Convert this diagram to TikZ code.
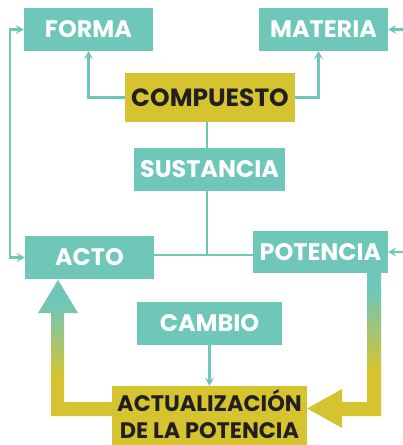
\documentclass[tikz,border=0pt]{standalone}
\usepackage{fontspec}
\setmainfont{Poppins}
\usetikzlibrary{arrows.meta}
\definecolor{tealc}{HTML}{6EC7B9}
\definecolor{yelc}{HTML}{D5C42F}
\definecolor{inkc}{HTML}{231F20}
\pgfdeclareverticalshading{lshade}{100bp}{color(0bp)=(yelc); color(39.5bp)=(yelc); color(66.5bp)=(tealc); color(100bp)=(tealc)}
\pgfdeclareverticalshading{rshade}{100bp}{color(0bp)=(yelc); color(43.5bp)=(yelc); color(69.5bp)=(tealc); color(100bp)=(tealc)}
\begin{document}
\begin{tikzpicture}[x=1bp,y=-1bp,
  tbox/.style={fill=tealc,text=white,inner sep=0pt,font=\fontsize{24}{26}\selectfont\bfseries},
  ybox/.style={fill=yelc,text=inkc,inner sep=0pt,font=\fontsize{24}{28}\selectfont\bfseries,align=center},
  conn/.style={draw=tealc,line width=2.3bp},
  tip/.style={-{Stealth[length=8bp,width=9bp,inset=3bp]}},
  tips/.style={{Stealth[length=8bp,width=9bp,inset=3bp]}-{Stealth[length=8bp,width=9bp,inset=3bp]}}]
\useasboundingbox (0,0) rectangle (402,445);
\node[tbox,minimum width=129bp,minimum height=43bp] (forma) at (88.5,29.5) {FORMA};
\node[tbox,minimum width=129bp,minimum height=43bp] (materia) at (323.5,29.5) {MATERIA};
\node[ybox,minimum width=170bp,minimum height=49bp,font=\fontsize{25}{28}\selectfont\bfseries] (compuesto) at (210,97.5) {COMPUESTO};
\node[tbox,minimum width=151bp,minimum height=43bp] (sustancia) at (209.5,169.5) {SUSTANCIA};
\node[tbox,minimum width=129bp,minimum height=43bp] (acto) at (89.5,257.5) {ACTO};
\node[tbox,minimum width=135bp,minimum height=42bp] (potencia) at (320.5,252) {POTENCIA};
\node[tbox,minimum width=145bp,minimum height=43bp] (cambio) at (209.5,323.5) {CAMBIO};
\node[fill=yelc,minimum width=195bp,minimum height=59bp,
  label={[text=inkc,inner sep=0pt,align=center,font=\fontsize{22.5}{26.5}\selectfont\bfseries,yshift=1.5bp]center:ACTUALIZACIÓN\\DE LA POTENCIA}] (actual) at (209.5,415.5) {};
% connectors
\draw[conn,tip] (compuesto.west) -| (forma.south);
\draw[conn,tip] (compuesto.east) -| ([xshift=-5bp]materia.south);
\coordinate (j) at (207,255);
\draw[conn] (compuesto.south -| j) -- (sustancia.north -| j);
\draw[conn] (sustancia.south -| j) -- (j);
\draw[conn] (acto.east |- j) -- (potencia.west |- j);
\draw[conn,tips] (forma.west) -- ++(-14,0) |- (acto.west);
\draw[conn,tips] (materia.east) -- ++(16,0) |- (potencia.east);
\draw[conn,tip] (cambio.south) -- (actual.north);
% thick arrows
\path[shading=lshade] (58,280) -- (78,313) -- (64,313) -- (64,402) -- (actual.west |- 0,402) -- (actual.west |- 0,416) -- (51,416) -- (51,313) -- (38,313) -- cycle;
\path[shading=rshade] (367,273) -- (381,273) -- (381,416) -- (342,416) -- (342,428) -- (actual.east |- 0,408.5) -- (342,389) -- (342,402) -- (367,402) -- cycle;
\end{tikzpicture}
\end{document}
